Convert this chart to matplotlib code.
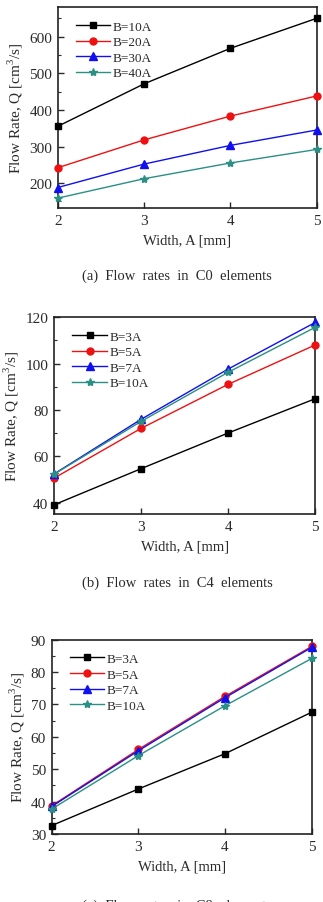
import matplotlib
matplotlib.use("Agg")
import matplotlib.pyplot as plt
from matplotlib.ticker import AutoMinorLocator

plt.rcParams['font.family'] = ['Liberation Serif', 'DejaVu Serif']
plt.rcParams['mathtext.fontset'] = 'custom'
plt.rcParams['mathtext.rm'] = 'Liberation Serif'

width_mm = [2, 3, 4, 5]

# (a) C0 elements
labels_a = ["B=10A", "B=20A", "B=30A", "B=40A"]
q_a_b10 = [355, 471, 568, 650]
q_a_b20 = [242, 318, 383, 438]
q_a_b30 = [188, 252, 303, 345]
q_a_b40 = [159, 212, 255, 292]

# (b) C4 elements
labels_b = ["B=3A", "B=5A", "B=7A", "B=10A"]
q_b_b3 = [39.1, 54.7, 70.1, 84.9]
q_b_b5 = [50.6, 72.1, 91.1, 108.1]
q_b_b7 = [52.4, 76.0, 97.7, 117.8]
q_b_b10 = [52.3, 75.1, 96.3, 115.7]

# (c) C8 elements
labels_c = ["B=3A", "B=5A", "B=7A", "B=10A"]
q_c_b3 = [32.6, 43.9, 54.8, 67.6]
q_c_b5 = [38.7, 56.1, 72.5, 87.9]
q_c_b7 = [38.5, 55.7, 72.1, 87.6]
q_c_b10 = [37.7, 54.2, 69.6, 84.2]

captions = ["(a)  Flow  rates  in  C0  elements",
            "(b)  Flow  rates  in  C4  elements",
            "(c)  Flow  rates  in  C8  elements"]

colors = ["#000000", "#ee1111", "#1010ee", "#2a8f85"]
markers = ["s", "o", "^", "*"]
msizes = [4.5, 5, 5.5, 6]
txt = "#2a2a2a"

fig = plt.figure(figsize=(3.23, 9.03), dpi=100)

panels = [
    ([0.1786, 0.7685, 0.8019, 0.2223], labels_a, [q_a_b10, q_a_b20, q_a_b30, q_a_b40],
     (132, 680), [200, 300, 400, 500, 600], 276, 177),
    ([0.1672, 0.4293, 0.8090, 0.2182], labels_b, [q_b_b3, q_b_b5, q_b_b7, q_b_b10],
     (35, 120), [40, 60, 80, 100, 120], 583, 177),
    ([0.1600, 0.0753, 0.8050, 0.2152], labels_c, [q_c_b3, q_c_b5, q_c_b7, q_c_b10],
     (30, 90), [30, 40, 50, 60, 70, 80, 90], 906, 177),
]

for cap, (rect, labels, series, ylim, yticks, cap_y, cap_x) in zip(captions, panels):
    ax = fig.add_axes(rect)
    for vals, lab, c, m, ms in zip(series, labels, colors, markers, msizes):
        ax.plot(width_mm, vals, color=c, marker=m, markersize=ms, lw=1.0,
                label=lab, clip_on=False, zorder=3)
    ax.set_xlim(2, 5)
    ax.set_ylim(*ylim)
    ax.set_xticks(width_mm)
    ax.set_yticks(yticks)
    ax.yaxis.set_minor_locator(AutoMinorLocator(2))
    ax.tick_params(axis='both', which='major', direction='in', length=4, width=1,
                   labelsize=11, colors=txt, pad=4)
    ax.tick_params(axis='y', which='minor', direction='in', length=2, width=0.8, colors=txt)
    for s in ax.spines.values():
        s.set_linewidth(1.2)
        s.set_color("#222222")
    ax.set_xlabel("Width, A [mm]", fontsize=10.5, color=txt, labelpad=5)
    ax.set_ylabel(r"Flow Rate, Q [cm$^{\mathregular{3}}$/s]", fontsize=11, color=txt, labelpad=3)
    leg = ax.legend(loc='upper left', frameon=False, fontsize=9.5, handlelength=2.6,
                    handletextpad=0.2, labelspacing=0.25, borderaxespad=0.6,
                    bbox_to_anchor=(0.02, 1.0))
    for t in leg.get_texts():
        t.set_color(txt)
    fig.text(cap_x / 323, 1 - cap_y / 903, cap, ha='center', va='center',
             fontsize=10.5, color=txt)

fig.savefig("out.png", dpi=100)
